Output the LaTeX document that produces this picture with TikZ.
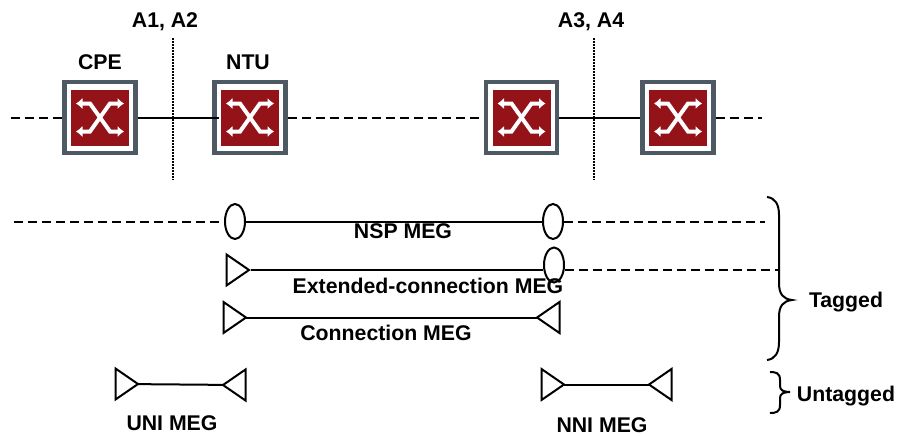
\documentclass[tikz,border=0pt]{standalone}
\usepackage{fontspec}
\setmainfont{Liberation Sans}
\usetikzlibrary{arrows.meta,shapes.geometric}

\tikzset{
  switchbox/.style = {draw = boxgray, fill = white, line width = 0.95mm, minimum size = 14.2mm, inner sep = 0},
  cross/.style = {draw = white, line width = 0.8mm, >={Latex[length = 1.3mm, width = 2.3mm]}},
  meglabel/.style = {font = \fontsize{12.1}{14}\bfseries, inner sep = 0},
  megline/.style = {line width = 0.4mm},
  megdash/.style = {megline, dash pattern = on 1.8mm off 1mm},
  megdots/.style = {line width = 0.3mm, dash pattern = on 0.3mm off 0.3mm},
  oval/.style = {ellipse, draw, fill = white, megline, minimum width = 4mm, minimum height = 7mm, inner sep = 0},
  mep/.style = {isosceles triangle, isosceles triangle stretches, draw, megline, minimum width = 6.2mm, minimum height = 4.5mm, inner sep = 0, outer sep = 0},
  mepR/.style = {mep, anchor = apex},
  mepL/.style = {mep, anchor = apex, shape border rotate = 180},
}
\definecolor{boxgray}{HTML}{4D5A64}
\definecolor{boxred}{HTML}{941318}

\begin{document}
\begin{tikzpicture}[x = 0.2mm, y = -0.2mm]
  \useasboundingbox (0, 0) rectangle (898, 435);

  \node [switchbox] (CPE) at (100, 117.5) {};
  \node [switchbox] (NTU) at (250, 117.5) {};
  \node [switchbox] (SW) at (521.5, 117.5) {};
  \node [switchbox] (SE) at (678, 117.5) {};
  \foreach \sw in {CPE, NTU, SW, SE} {
    \begin{scope}[shift = {(\sw)}]
      \fill [boxred] (-29, -28) rectangle (29, 28);
      \draw [cross, <->] (-24, -14) -- (-10, -14) -- (10, 14) -- (24, 14);
      \draw [cross, <->] (-24, 14) -- (-10, 14) -- (10, -14) -- (24, -14);
    \end{scope}
  }

  \node [meglabel] (A12) at (165, 22) {A1, A2};
  \node [meglabel] (A34) at (591, 22) {A3, A4};
  \node [meglabel] (CPEL) at (100, 62) {CPE};
  \node [meglabel] (NTUL) at (248, 62) {NTU};

  \coordinate (LE) at (11, 117.5);
  \coordinate (RE) at (762, 117.5);
  \coordinate (A12T) at (173, 38);
  \coordinate (A12B) at (173, 180);
  \coordinate (A34T) at (594, 38);
  \coordinate (A34B) at (594, 180);
  \draw [megdash] (LE) -- (CPE);
  \draw [megline, shorten >= -1.4mm] (CPE) -- (NTU);
  \draw [megdash] (NTU) -- (SW);
  \draw [megline] (SW) -- (SE);
  \draw [megdash] (SE) -- (RE);
  \draw [megdots] (A12T) -- (A12B);
  \draw [megdots] (A34T) -- (A34B);

  % NSP
  \node [oval] (NSPL) at (235, 221.5) {};
  \node [oval] (NSPR) at (553, 221.5) {};
  \coordinate (NSPLE) at (14, 221.5);
  \coordinate (NSPRE) at (765, 221.5);
  \draw [megdash] (NSPLE) -- (NSPL);
  \draw [megline] (NSPL) -- (NSPR);
  \draw [megdash] (NSPR) -- (NSPRE);
  \node [meglabel] (NSP) at (403, 231) {NSP MEG};

  % extended connection
  \node [mepR] (EXTL) at (249, 270) {};
  \node [oval] (EXTR) at (554, 265) {};
  \coordinate (EXTRE) at (780, 269.5);
  \draw [megline, shorten <= 0.4mm] (EXTL) -- (EXTR.west |- EXTL);
  \draw [megdash] (EXTR.east |- EXTRE) -- (EXTRE);
  \node [meglabel] (EXT) at (428, 286) {Extended-connection MEG};

  % connection
  \node [mepR] (CONL) at (246, 317.5) {};
  \node [mepL] (CONR) at (537, 317.5) {};
  \draw [megline] (CONL) -- (CONR);
  \node [meglabel] (CON) at (386, 333) {Connection MEG};

  % UNI, NNI
  \node [mepR] (UNIL) at (138, 384) {};
  \node [mepL] (UNIR) at (223, 385) {};
  \draw [megline] (UNIL) -- (UNIR);
  \node [meglabel] (UNI) at (172, 423) {UNI MEG};
  \node [mepR] (NNIL) at (564, 384.5) {};
  \node [mepL] (NNIR) at (649, 384.5) {};
  \draw [megline] (NNIL) -- (NNIR);
  \node [meglabel] (NNI) at (602, 425) {NNI MEG};

  % braces
  \draw [megline] (767, 197) .. controls (775, 198) and (779, 204) .. (779, 215) -- (779, 283) .. controls (779, 294) and (783, 299) .. (792, 300) .. controls (783, 301) and (779, 306) .. (779, 317) -- (779, 342) .. controls (779, 353) and (775, 359) .. (767, 360);
  \draw [megline] (770, 372) .. controls (776, 372) and (780, 373) .. (780, 380) -- (780, 386) .. controls (780, 390) and (783, 392) .. (790, 392) .. controls (783, 392) and (780, 394) .. (780, 398) -- (780, 405) .. controls (780, 412) and (776, 413) .. (770, 413);
  \node [meglabel] (TAG) at (846, 302.5) {Tagged};
  \node [meglabel] (UNT) at (846, 396) {Untagged};
\end{tikzpicture}
\end{document}
